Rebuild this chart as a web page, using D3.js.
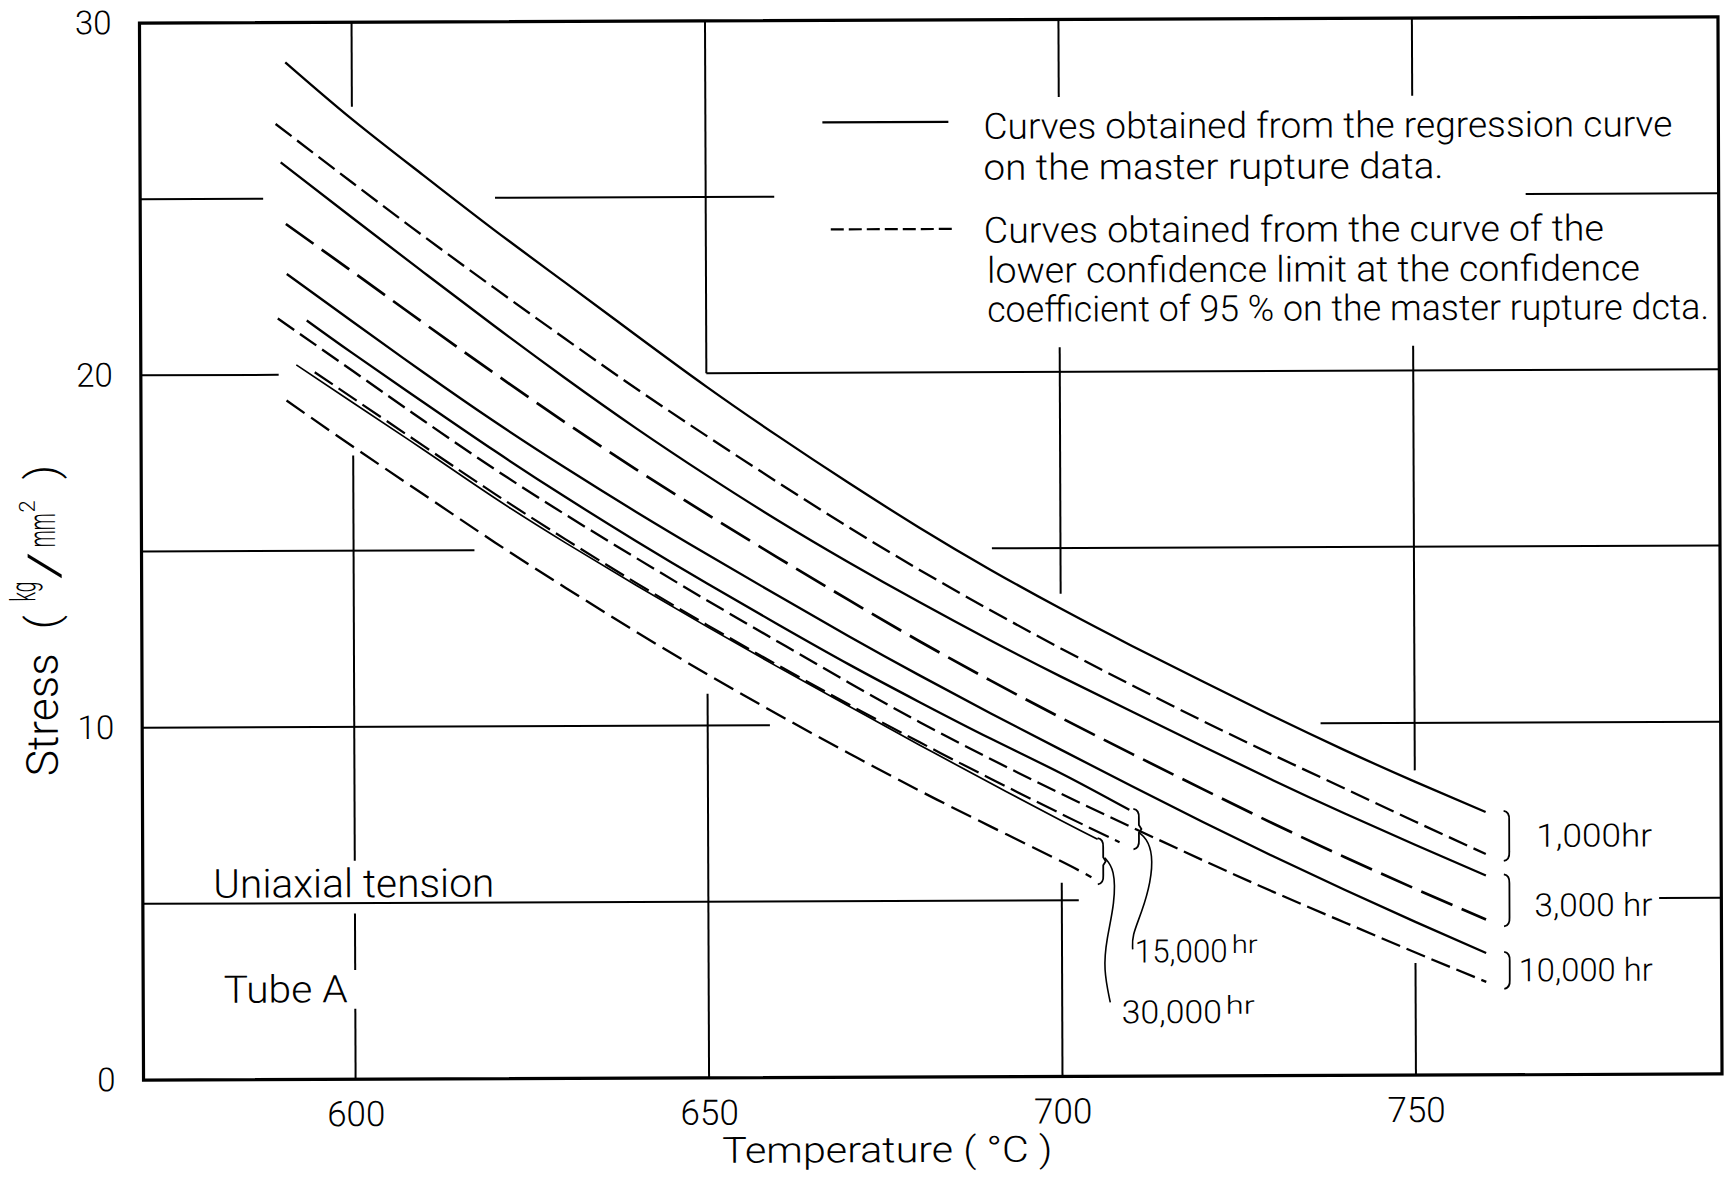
<!DOCTYPE html>
<html>
<head>
<meta charset="utf-8">
<script src="https://cdn.jsdelivr.net/npm/d3@7"></script>
<style>
  html, body { margin: 0; padding: 0; background: #fff; }
  svg { display: block; }
  text { font-family: Roboto, "Noto Sans", "DejaVu Sans", sans-serif; font-weight: 300; fill: #000; }
</style>
</head>
<body>
<svg id="chart" width="1725" height="1178"></svg>
<script>
// Creep-rupture strength of Tube A: stress vs temperature for several rupture lives.
// Solid = regression curve on the master rupture data,
// dashed = lower 95 % confidence limit.

const ruptureHours = ["1,000", "3,000", "10,000", "15,000", "30,000"];
const xTicks = [600, 650, 700, 750];
const yTicks = [0, 10, 20, 30];

const temp1000Reg   = [590.6, 600, 610, 620, 630, 640, 650, 660, 670, 680, 690, 700, 710, 720, 730, 740, 750, 760];
const stress1000Reg = [28.87, 27.25, 25.66, 24.1, 22.6, 21.1, 19.62, 18.22, 16.88, 15.6, 14.4, 13.28, 12.22, 11.2, 10.2, 9.24, 8.33, 7.46];

const temp1000Low   = [589.2, 600, 610, 620, 630, 640, 650, 660, 670, 680, 690, 700, 710, 720, 730, 740, 750, 760];
const stress1000Low = [27.12, 25.45, 23.93, 22.45, 21.0, 19.58, 18.22, 16.9, 15.62, 14.4, 13.25, 12.15, 11.1, 10.08, 9.1, 8.15, 7.2, 6.27];

const temp3000Reg   = [589.9, 600, 610, 620, 630, 640, 650, 660, 670, 680, 690, 700, 710, 720, 730, 740, 750, 760];
const stress3000Reg = [26.03, 24.45, 22.9, 21.37, 19.88, 18.45, 17.1, 15.82, 14.62, 13.48, 12.39, 11.35, 10.35, 9.36, 8.38, 7.44, 6.54, 5.66];

const temp3000Low   = [590.6, 600, 610, 620, 630, 640, 650, 660, 670, 680, 690, 700, 710, 720, 730, 740, 750, 760];
const stress3000Low = [24.28, 22.92, 21.46, 20.02, 18.62, 17.28, 16.0, 14.76, 13.55, 12.37, 11.25, 10.18, 9.15, 8.14, 7.15, 6.2, 5.29, 4.41];

const temp10000Reg   = [590.7, 600, 610, 620, 630, 640, 650, 660, 670, 680, 690, 700, 710, 720, 730, 740, 750, 760];
const stress10000Reg = [22.86, 21.5, 20.05, 18.65, 17.33, 16.07, 14.86, 13.68, 12.52, 11.4, 10.32, 9.27, 8.23, 7.21, 6.22, 5.27, 4.35, 3.46];

const temp10000Low   = [589.4, 600, 610, 620, 630, 640, 650, 660, 670, 680, 690, 700, 710, 720, 730, 740, 750, 760];
const stress10000Low = [21.6, 20.1, 18.68, 17.3, 16.0, 14.76, 13.55, 12.37, 11.2, 10.07, 9.02, 8.02, 7.06, 6.12, 5.21, 4.34, 3.48, 2.64];

const temp15000Reg   = [593.5, 600, 610, 620, 630, 640, 650, 660, 670, 680, 690, 700, 709.6];
const stress15000Reg = [21.54, 20.6, 19.2, 17.82, 16.5, 15.24, 14.03, 12.86, 11.72, 10.64, 9.6, 8.6, 7.56];

const temp15000Low   = [594.6, 600, 610, 620, 630, 640, 650, 660, 670, 680, 690, 700, 708.2];
const stress15000Low = [20.07, 19.33, 17.96, 16.6, 15.3, 14.05, 12.85, 11.7, 10.58, 9.5, 8.46, 7.45, 6.64];

const temp30000Reg   = [592, 600, 610, 620, 630, 640, 650, 660, 670, 680, 690, 700, 705.1];
const stress30000Reg = [20.28, 19.2, 17.85, 16.48, 15.2, 13.98, 12.8, 11.65, 10.53, 9.42, 8.33, 7.26, 6.73];

const temp30000Low   = [590.6, 600, 610, 620, 630, 640, 650, 660, 670, 680, 690, 700, 704.2];
const stress30000Low = [19.27, 17.95, 16.58, 15.22, 13.92, 12.66, 11.45, 10.3, 9.19, 8.12, 7.1, 6.1, 5.65];

// Leader lines from the braces of the two short groups to their labels (temperature, stress)
const leader15000 = [[710.9, 6.93], [712.0, 6.75], [712.9, 6.3], [712.6, 5.5], [711.3, 4.65], [709.9, 3.98], [710.0, 3.6]];
const leader30000 = [[706.1, 6.2], [707.5, 5.88], [707.5, 4.93], [706.3, 3.89], [705.85, 3.04], [706.8, 2.1]];

// Grid is drawn in pieces so it never runs through curves or lettering
const gridVertical = [
  [600, [[27.6, 30], [6.2, 17.7], [3.1, 4.7], [0, 2.0]]],
  [650, [[20, 30], [0, 10.9]]],
  [700, [[27.8, 30], [13.7, 20.7], [0, 5.5]]],
  [750, [[27.8, 30], [8.65, 20.7], [0, 3.18]]]
];
const gridHorizontal = [
  [25, [[570, 587.4], [620.2, 659.7], [766, 793.3]]],
  [20, [[570, 589.5], [650, 793.3]]],
  [15, [[570, 617.1], [690.3, 793.3]]],
  [10, [[570, 658.8], [736.7, 793.3]]],
  [5,  [[570, 702.4], [784.5, 793.3]]]
];

const series = [
  { hours: "1,000",  kind: "reg", t: temp1000Reg,  s: stress1000Reg },
  { hours: "1,000",  kind: "low", t: temp1000Low,  s: stress1000Low },
  { hours: "3,000",  kind: "reg", t: temp3000Reg,  s: stress3000Reg },
  { hours: "3,000",  kind: "low", t: temp3000Low,  s: stress3000Low },
  { hours: "10,000", kind: "reg", t: temp10000Reg, s: stress10000Reg },
  { hours: "10,000", kind: "low", t: temp10000Low, s: stress10000Low },
  { hours: "15,000", kind: "reg", t: temp15000Reg, s: stress15000Reg },
  { hours: "15,000", kind: "low", t: temp15000Low, s: stress15000Low },
  { hours: "30,000", kind: "reg", t: temp30000Reg, s: stress30000Reg },
  { hours: "30,000", kind: "low", t: temp30000Low, s: stress30000Low }
];

// Pen styles for each curve
const penStyle = {
  "1,000|reg":  { w: 2.3, dash: null },
  "1,000|low":  { w: 2.3, dash: "20,7" },
  "3,000|reg":  { w: 2.3, dash: null },
  "3,000|low":  { w: 2.7, dash: "34,10" },
  "10,000|reg": { w: 2.3, dash: null },
  "10,000|low": { w: 2.3, dash: "20,7" },
  "15,000|reg": { w: 2.3, dash: null },
  "15,000|low": { w: 2.2, dash: "22,7" },
  "30,000|reg": { w: 1.7, dash: null },
  "30,000|low": { w: 2.3, dash: "22,8" }
};

const svg = d3.select("#chart");
const x = d3.scaleLinear().domain([570, 793.3]).range([141.5, 1720]);
const y = d3.scaleLinear().domain([0, 30]).range([1077, 20]);

// the whole sheet sits very slightly askew
const root = svg.append("g").attr("transform", "rotate(-0.22 931 548)");

// grid pieces
const grid = root.append("g").attr("stroke", "#000").attr("stroke-width", 2);
gridVertical.forEach(([t, segs]) => segs.forEach(([a, b]) => {
  grid.append("line").attr("x1", x(t)).attr("x2", x(t)).attr("y1", y(a)).attr("y2", y(b));
}));
gridHorizontal.forEach(([s, segs]) => segs.forEach(([a, b]) => {
  grid.append("line").attr("x1", x(a)).attr("x2", x(b)).attr("y1", y(s)).attr("y2", y(s));
}));

// frame
root.append("rect")
  .attr("x", x(570)).attr("y", y(30))
  .attr("width", x(793.3) - x(570)).attr("height", y(0) - y(30))
  .attr("fill", "none").attr("stroke", "#000").attr("stroke-width", 3.2);

// axes (labels only)
const xAxis = root.append("g")
  .attr("transform", `translate(0,${y(0)})`)
  .call(d3.axisBottom(x).tickValues(xTicks).tickSize(0).tickPadding(22).tickFormat(d3.format("d")));
xAxis.select(".domain").remove();
xAxis.selectAll("text").attr("font-size", 35).style("font-family", "Roboto, 'Noto Sans', sans-serif").style("font-weight", 300);

const yAxis = root.append("g")
  .attr("transform", `translate(${x(570)},0)`)
  .call(d3.axisLeft(y).tickValues(yTicks).tickSize(0).tickPadding(28).tickFormat(d3.format("d")));
yAxis.select(".domain").remove();
yAxis.selectAll("text").attr("font-size", 33).style("font-family", "Roboto, 'Noto Sans', sans-serif").style("font-weight", 300);

// curves
const line = d3.line().x(d => x(d[0])).y(d => y(d[1])).curve(d3.curveNatural);
root.append("g").selectAll("path")
  .data(series)
  .join("path")
  .attr("d", d => line(d.t.map((t, i) => [t, d.s[i]])))
  .attr("fill", "none")
  .attr("stroke", "#000")
  .attr("stroke-width", d => penStyle[d.hours + "|" + d.kind].w)
  .attr("stroke-dasharray", d => penStyle[d.hours + "|" + d.kind].dash);

// braces grouping each regression / lower-limit pair
const braceGap = { "1,000": 22, "3,000": 22, "10,000": 22, "15,000": 8, "30,000": 4 };
function bracePath(xp, ya, yb, cusp) {
  const m = (ya + yb) / 2;
  const mid = cusp ? `L${xp + 1.5},${m - 4} L${xp + 4},${m} L${xp + 1.5},${m + 4} ` : "";
  return `M${xp - 4},${ya} Q${xp + 2},${ya + 1} ${xp + 1.5},${ya + 9} ${mid}L${xp + 1.5},${yb - 9} Q${xp + 2},${yb - 1} ${xp - 4},${yb}`;
}
const braceInfo = {};
ruptureHours.forEach(h => {
  const reg = series.find(d => d.hours === h && d.kind === "reg");
  const low = series.find(d => d.hours === h && d.kind === "low");
  const tEnd = Math.max(reg.t[reg.t.length - 1], low.t[low.t.length - 1]);
  const sTop = reg.s[reg.s.length - 1] + 0.03;
  const sBot = low.s[low.s.length - 1] - 0.2;
  const xp = x(tEnd) + braceGap[h];
  const short = (h === "15,000" || h === "30,000");
  braceInfo[h] = { xp, ya: y(sTop), yb: y(sBot) };
  root.append("path")
    .attr("d", bracePath(xp, y(sTop), y(sBot), short))
    .attr("fill", "none").attr("stroke", "#000").attr("stroke-width", 1.8);
});

// right-hand life labels
const rightLabels = [
  { h: "1,000",  text: "1,000hr",   len: 116, dy: 11 },
  { h: "3,000",  text: "3,000 hr",  len: 118, dy: 16 },
  { h: "10,000", text: "10,000 hr", len: 134, dy: 11 }
];
rightLabels.forEach(d => {
  const b = braceInfo[d.h];
  root.append("text")
    .attr("x", 1651).attr("y", (b.ya + b.yb) / 2 + d.dy)
    .attr("text-anchor", "end")
    .attr("font-size", 32)
    .attr("textLength", d.len).attr("lengthAdjust", "spacingAndGlyphs")
    .text(d.text);
});

// leader lines and labels for the short groups
const leaderLine = d3.line().x(d => x(d[0])).y(d => y(d[1])).curve(d3.curveBasis);
[[leader15000, "15,000", 2, 13, 93, 26], [leader30000, "30,000", 11.5, 21, 100, 29]].forEach(([pts, h, dx, dy, len, hrLen]) => {
  root.append("path").attr("d", leaderLine(pts))
    .attr("fill", "none").attr("stroke", "#000").attr("stroke-width", 1.6);
  const end = pts[pts.length - 1];
  const lx = x(end[0]) + dx, ly = y(end[1]) + dy;
  root.append("text").attr("x", lx).attr("y", ly).attr("font-size", 32)
    .attr("textLength", len).attr("lengthAdjust", "spacingAndGlyphs").text(h);
  root.append("text").attr("x", lx + len + 4).attr("y", ly - 9).attr("font-size", 25)
    .attr("textLength", hrLen).attr("lengthAdjust", "spacingAndGlyphs").text("hr");
});

// legend
const legend = root.append("g");
legend.append("line").attr("x1", 824).attr("x2", 950).attr("y1", 122).attr("y2", 122)
  .attr("stroke", "#000").attr("stroke-width", 2.2);
legend.append("line").attr("x1", 832).attr("x2", 957).attr("y1", 229).attr("y2", 229)
  .attr("stroke", "#000").attr("stroke-width", 2.2).attr("stroke-dasharray", "13,5");
const legendLines = [
  ["Curves obtained from the regression curve", 985, 139, 689],
  ["on the master rupture data.", 985, 180, 460],
  ["Curves obtained from the curve of  the", 985, 243, 620],
  ["lower confidence limit  at the confidence", 988, 283, 653],
  ["coefficient of 95 % on the master rupture dcta.", 988, 322, 722]
];
legendLines.forEach(([t, lx, ly, len]) => {
  legend.append("text").attr("x", lx).attr("y", ly).attr("font-size", 36)
    .attr("textLength", len).attr("lengthAdjust", "spacingAndGlyphs").text(t);
});

// in-plot notes
root.append("text").attr("x", 212).attr("y", 895).attr("font-size", 40)
  .attr("textLength", 281).attr("lengthAdjust", "spacingAndGlyphs").text("Uniaxial  tension");
root.append("text").attr("x", 222).attr("y", 1000).attr("font-size", 38)
  .attr("textLength", 124).attr("lengthAdjust", "spacingAndGlyphs").text("Tube  A");

// axis titles
root.append("text").attr("x", 720).attr("y", 1162).attr("font-size", 36)
  .attr("textLength", 330).attr("lengthAdjust", "spacingAndGlyphs")
  .text("Temperature ( °C )");

// vertical title, built piece by piece so the unit reads as a small fraction
const yTitle = root.append("g").attr("transform", "translate(57,773) rotate(-90)");
const yTitleParts = [
  { t: "Stress", x: 0,   y: 0,   size: 44, len: 123 },
  { t: "(",      x: 147, y: 0,   size: 44, len: null },
  { t: "kg",     x: 175, y: -22, size: 35, len: 20 },
  { t: "/",      x: 197, y: 2,   size: 44, len: 28 },
  { t: "mm",     x: 229, y: -2,  size: 38, len: 34 },
  { t: "2",      x: 264, y: -22, size: 22, len: null },
  { t: ")",      x: 297, y: 0,   size: 44, len: null }
];
yTitleParts.forEach(p => {
  const t = yTitle.append("text").attr("x", p.x).attr("y", p.y).attr("font-size", p.size).text(p.t);
  if (p.len) t.attr("textLength", p.len).attr("lengthAdjust", "spacingAndGlyphs");
});
</script>
</body>
</html>
